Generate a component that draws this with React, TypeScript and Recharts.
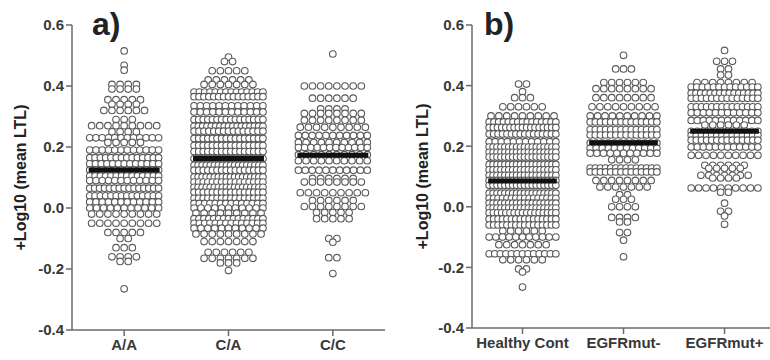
import React from "react";
import { ScatterChart, Scatter, XAxis, YAxis } from "recharts";

// panel a) genotypes
const catsA = ["A/A", "C/A", "C/C"];
const meansA = [0.125, 0.162, 0.173];
// rows of the swarm: [value, number of points read at that value]
const rowsAA: [number, number][] = [
  [0.515, 1], [0.468, 1], [0.452, 1], [0.405, 4], [0.39, 4], [0.355, 5], [0.34, 4],
  [0.32, 6], [0.29, 3], [0.27, 9], [0.25, 4], [0.23, 12], [0.215, 5], [0.19, 12],
  [0.165, 14], [0.145, 13], [0.125, 12], [0.105, 14], [0.09, 12], [0.065, 15],
  [0.04, 14], [0.02, 12], [0.0, 11], [-0.02, 9], [-0.05, 9], [-0.08, 5], [-0.1, 2],
  [-0.13, 3], [-0.16, 4], [-0.175, 2], [-0.265, 1],
];
const rowsCA: [number, number][] = [
  [0.495, 1], [0.48, 2], [0.45, 5], [0.42, 6], [0.405, 7], [0.38, 14], [0.365, 15],
  [0.335, 12], [0.315, 12], [0.29, 16], [0.268, 17], [0.252, 15], [0.228, 16],
  [0.205, 16], [0.185, 16], [0.162, 16], [0.14, 18], [0.124, 16], [0.102, 18],
  [0.085, 16], [0.068, 18], [0.052, 16], [0.032, 16], [0.015, 14], [0.0, 11],
  [-0.017, 9], [-0.035, 15], [-0.05, 14], [-0.066, 11], [-0.085, 9], [-0.11, 7],
  [-0.145, 6], [-0.165, 7], [-0.18, 3], [-0.205, 1],
];
const rowsCC: [number, number][] = [
  [0.505, 1], [0.4, 8], [0.36, 6], [0.325, 4], [0.31, 8], [0.288, 8], [0.265, 9],
  [0.238, 11], [0.215, 10], [0.198, 12], [0.175, 10], [0.155, 10], [0.124, 11],
  [0.097, 6], [0.085, 8], [0.05, 9], [0.025, 6], [0.005, 8], [-0.015, 5], [-0.035, 5],
  [-0.1, 2], [-0.112, 1], [-0.163, 2], [-0.215, 1],
];

// panel b) groups
const catsB = ["Healthy Cont", "EGFRmut-", "EGFRmut+"];
const meansB = [0.085, 0.211, 0.249];
const rowsHealthy: [number, number][] = [
  [0.405, 2], [0.38, 1], [0.36, 3], [0.33, 6], [0.3, 9], [0.28, 15], [0.262, 17],
  [0.24, 16], [0.215, 12], [0.197, 18], [0.18, 18], [0.164, 18], [0.14, 18],
  [0.122, 18], [0.104, 18], [0.087, 18], [0.071, 18], [0.045, 18], [0.028, 16],
  [0.012, 18], [-0.004, 18], [-0.02, 17], [-0.04, 16], [-0.06, 16], [-0.08, 6],
  [-0.1, 11], [-0.125, 7], [-0.155, 13], [-0.175, 6], [-0.205, 2], [-0.215, 1],
  [-0.265, 1],
];
const rowsMutNeg: [number, number][] = [
  [0.5, 1], [0.455, 3], [0.41, 6], [0.39, 8], [0.36, 8], [0.33, 9], [0.3, 10],
  [0.28, 14], [0.255, 14], [0.237, 14], [0.21, 12], [0.193, 12], [0.177, 11],
  [0.155, 4], [0.128, 14], [0.115, 14], [0.087, 8], [0.065, 7], [0.04, 2],
  [0.025, 3], [0.0, 4], [-0.035, 4], [-0.05, 2], [-0.085, 2], [-0.11, 1], [-0.165, 1],
];
const rowsMutPos: [number, number][] = [
  [0.516, 1], [0.48, 3], [0.455, 2], [0.435, 2], [0.41, 8], [0.395, 13], [0.375, 15],
  [0.358, 14], [0.33, 14], [0.31, 12], [0.285, 12], [0.27, 6], [0.249, 12],
  [0.236, 14], [0.22, 14], [0.197, 12], [0.17, 10], [0.137, 6], [0.127, 5],
  [0.104, 7], [0.095, 4], [0.062, 10], [0.048, 2], [0.012, 1], [-0.015, 2],
  [-0.03, 1], [-0.058, 1],
];

const yTicks = [-0.4, -0.2, 0, 0.2, 0.4, 0.6];
const FONT = "'Liberation Sans', Arial, sans-serif";
const tickStyle = { fill: "#383838", fontSize: 15, fontFamily: FONT, fontWeight: "bold" };

// spread the points of each row sideways around the category centre
function swarm(rows: [number, number][], center: number) {
  const pts: { x: number; y: number }[] = [];
  const gap = 0.078;
  const half = 0.33;
  rows.forEach(([y, n]) => {
    const step = n > 1 ? Math.min(gap, (2 * half) / (n - 1)) : 0;
    for (let k = 0; k < n; k++) pts.push({ x: center + (k - (n - 1) / 2) * step, y });
  });
  return pts;
}

const Dot = (p: any) => (
  <circle cx={p.cx} cy={p.cy} r={3.3} fill="#fff" stroke="#5a5a5a" strokeWidth={1.1} />
);

function Panel({ cats, means, groups, width, height, yAxisWidth, xMax, bottom, labelX }: any) {
  const points = groups.flatMap((rows: [number, number][], i: number) => swarm(rows, i));
  const cy = 25 + (height - 25 - bottom) / 2;
  return (
    <ScatterChart width={width} height={height} margin={{ top: 25, right: 0, bottom: 0, left: 0 }}>
      <XAxis
        type="number"
        dataKey="x"
        domain={[-0.5, xMax]}
        ticks={[0, 1, 2]}
        interval={0}
        height={bottom}
        tickFormatter={(v: number) => cats[v]}
        tick={tickStyle}
        tickSize={6}
        tickMargin={3}
        stroke="#6a6a6a"
        strokeWidth={1.5}
        allowDataOverflow
      />
      <YAxis
        type="number"
        dataKey="y"
        domain={[-0.4, 0.6]}
        ticks={yTicks}
        interval={0}
        width={yAxisWidth}
        tickFormatter={(v: number) => v.toFixed(1)}
        tick={tickStyle}
        tickSize={6}
        stroke="#6a6a6a"
        strokeWidth={1.5}
        label={{
          content: () => (
            <text
              x={labelX}
              y={cy}
              transform={`rotate(-90 ${labelX} ${cy})`}
              textAnchor="middle"
              dominantBaseline="central"
              fontFamily={FONT}
              fontWeight="bold"
              fontSize={16}
              fill="#222"
            >
              +Log10 (mean LTL)
            </text>
          ),
        }}
      />
      <Scatter data={points} shape={Dot} isAnimationActive={false} />
      {means.map((m: number, i: number) => (
        <Scatter
          key={i}
          data={[{ x: i - 0.34, y: m }, { x: i + 0.34, y: m }]}
          line={{ stroke: "#111", strokeWidth: 5 }}
          shape={() => <g />}
          isAnimationActive={false}
        />
      ))}
    </ScatterChart>
  );
}

export default function App() {
  return (
    <div style={{ position: "absolute", left: 0, top: 0, width: 770, height: 360, background: "#fff" }}>
      <div style={{ position: "absolute", left: 0, top: 0 }}>
        <Panel
          cats={catsA}
          means={meansA}
          groups={[rowsAA, rowsCA, rowsCC]}
          width={385}
          height={360}
          yAxisWidth={72}
          xMax={2.5}
          bottom={30}
          labelX={20}
        />
      </div>
      <div style={{ position: "absolute", left: 385, top: 0 }}>
        <Panel
          cats={catsB}
          means={meansB}
          groups={[rowsHealthy, rowsMutNeg, rowsMutPos]}
          width={385}
          height={360}
          yAxisWidth={87}
          xMax={2.45}
          bottom={32}
          labelX={37}
        />
      </div>
      <svg width={770} height={360} style={{ position: "absolute", left: 0, top: 0, pointerEvents: "none" }}>
        <text x={92} y={35} fontFamily={FONT} fontWeight="bold" fontSize={32} fill="#222">a)</text>
        <text x={484} y={35} fontFamily={FONT} fontWeight="bold" fontSize={32} fill="#222">b)</text>
      </svg>
    </div>
  );
}
